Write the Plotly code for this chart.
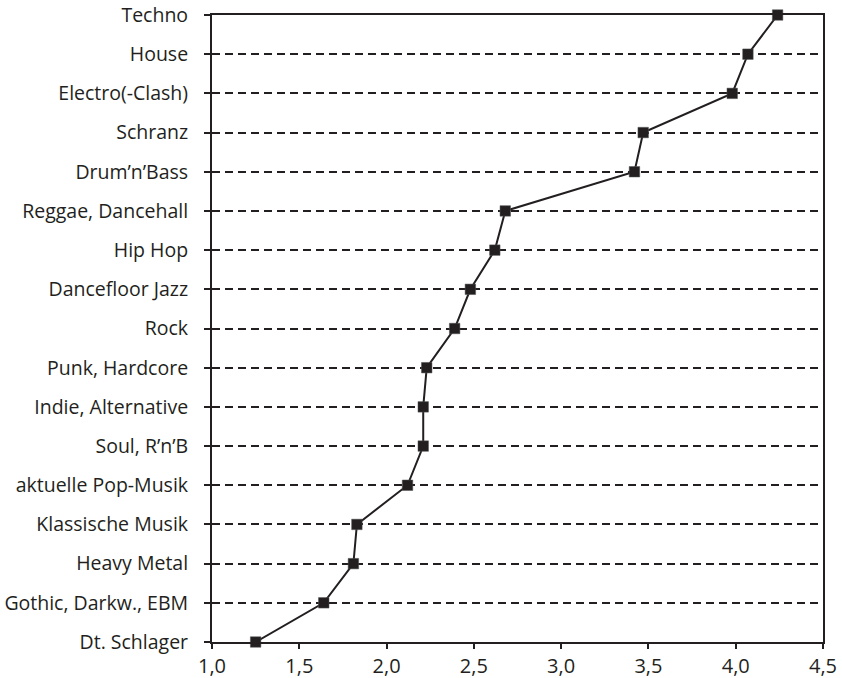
import plotly.graph_objects as go

genres = ["Dt. Schlager", "Gothic, Darkw., EBM", "Heavy Metal", "Klassische Musik",
          "aktuelle Pop-Musik", "Soul, R’n’B", "Indie, Alternative", "Punk, Hardcore",
          "Rock", "Dancefloor Jazz", "Hip Hop", "Reggae, Dancehall", "Drum’n’Bass",
          "Schranz", "Electro(-Clash)", "House", "Techno"]
scores = [1.25, 1.64, 1.81, 1.83, 2.12, 2.21, 2.21, 2.23, 2.39, 2.48, 2.62, 2.68,
          3.42, 3.47, 3.98, 4.07, 4.24]
x_ticks = [1.0, 1.5, 2.0, 2.5, 3.0, 3.5, 4.0, 4.5]

ink = "#231f20"
font_family = "Open Sans, Noto Sans, Arial, sans-serif"

fig = go.Figure()
fig.add_trace(go.Scatter(
    x=scores, y=genres, mode="lines+markers",
    line=dict(color=ink, width=2),
    marker=dict(symbol="square", size=10.5, color=ink, line=dict(color="#555", width=0.5)),
    cliponaxis=False, showlegend=False,
))

fig.update_layout(
    width=842, height=678,
    margin=dict(l=212, r=19, t=15, b=36, autoexpand=False),
    paper_bgcolor="white", plot_bgcolor="white",
    separators=",.",
    font=dict(family=font_family, size=20, color=ink),
)
fig.update_xaxes(
    range=[1.0, 4.5], tickvals=x_ticks, tickformat=".1f",
    showgrid=False, zeroline=False, automargin=False,
    showline=True, linecolor=ink, linewidth=2, mirror=True,
    ticks="outside", ticklen=5, tickwidth=2, tickcolor=ink,
    tickfont=dict(size=20),
)
fig.update_yaxes(
    type="category", categoryorder="array", categoryarray=genres,
    range=[0, 16], automargin=False,
    showgrid=True, gridcolor=ink, gridwidth=2, griddash="8px,5px",
    zeroline=False,
    showline=True, linecolor=ink, linewidth=2, mirror=True,
    ticks="outside", ticklen=6, tickwidth=2, tickcolor=ink,
    ticklabelstandoff=12,
    tickfont=dict(size=19.5),
)

fig.write_html(
    "out.html",
    config={"displayModeBar": False},
    post_script="document.body.style.margin='0';document.body.style.overflow='hidden';",
)
